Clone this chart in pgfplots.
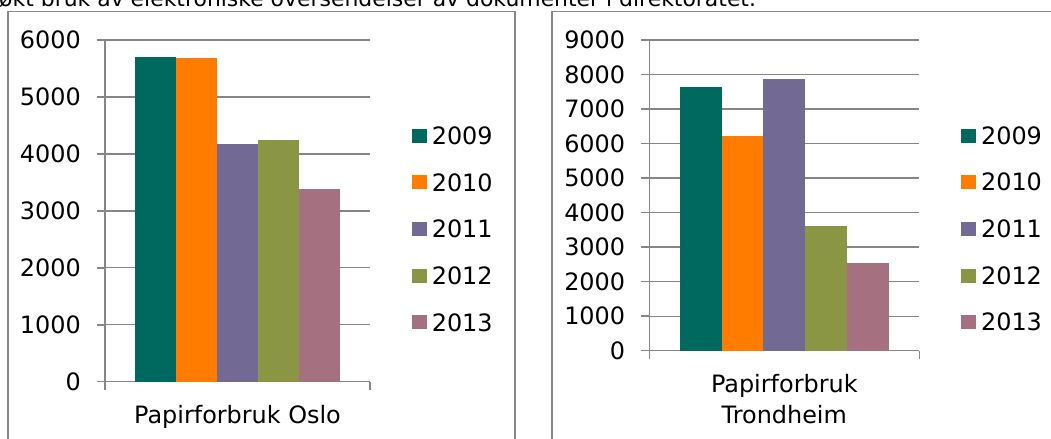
\documentclass[border=0pt]{standalone}
\usepackage{fontspec}
\setmainfont{DejaVu Sans}
\usepackage{pgfplots}
\pgfplotsset{compat=1.18}
\definecolor{c09}{RGB}{0,105,95}
\definecolor{c10}{RGB}{255,124,0}
\definecolor{c11}{RGB}{114,106,148}
\definecolor{c12}{RGB}{138,150,68}
\definecolor{c13}{RGB}{165,112,127}
\definecolor{gridgray}{RGB}{134,134,134}
\definecolor{framegray}{RGB}{136,136,136}
\newcommand{\chartfont}{\fontsize{24}{30.6}\selectfont}
\pgfplotsset{
  sq/.style={fill=#1, draw=none,
    legend image code/.code={\fill[##1] (0bp,-7bp) rectangle (15bp,7bp); \path (20bp,0bp);}},
  mystyle/.style={
    scale only axis,
    anchor=south west,
    ybar=0pt,
    xmin=-1, xmax=1,
    xtick={-1,1}, xticklabels={,},
    ymin=0,
    ytick distance=1000,
    axis x line*=bottom,
    axis y line*=left,
    axis line style={gridgray, line width=1.5bp, -},
    tick align=outside,
    major tick length=8bp,
    tick style={gridgray, line width=1.5bp},
    ymajorgrids,
    major grid style={gridgray, line width=1.3bp},
    /pgf/number format/assume math mode=true,
    /pgf/number format/1000 sep={},
    ticklabel style={font=\chartfont},
    yticklabel style={inner xsep=0pt, xshift=-16bp},
    label style={font=\chartfont},
    legend cell align=left,
    legend style={draw=none, fill=none, anchor=west, inner sep=0pt,
      row sep=29.17bp, column sep=0pt,
      nodes={inner sep=0pt, text height=17.5bp, text depth=0pt, font=\chartfont}},
  }
}
\begin{document}
\begin{tikzpicture}
\useasboundingbox (0,0) rectangle (1051bp,439bp);
\clip (0,0) rectangle (1051bp,439bp);
\node[anchor=base west, inner sep=0pt, font=\fontsize{22}{26}\selectfont] at (-1bp,432bp) {økt bruk av elektroniske oversendelser av dokumenter i direktoratet.};
\draw[framegray, line width=1.5bp] (8bp,-20bp) rectangle (515bp,427.5bp);
\draw[framegray, line width=1.5bp] (552bp,-20bp) rectangle (1075bp,427.5bp);

\begin{axis}[mystyle, at={(105bp,57.3bp)}, width=265bp, height=341.7bp,
  ymax=6000, bar width=40.8bp,
  xlabel={Papirforbruk Oslo},
  xlabel style={at={(axis description cs:0.5,0)}, anchor=base, yshift=-41.6bp},
  legend style={at={(1.157,0.447)}}]
\addplot[sq=c09] coordinates {(0,5700)};
\addplot[sq=c10] coordinates {(0,5680)};
\addplot[sq=c11] coordinates {(0,4175)};
\addplot[sq=c12] coordinates {(0,4245)};
\addplot[sq=c13] coordinates {(0,3385)};
\legend{2009,2010,2011,2012,2013}
\end{axis}

\begin{axis}[mystyle, at={(649.3bp,88.3bp)}, width=270bp, height=310.7bp,
  ymax=9000, bar width=41.7bp,
  xlabel={Papirforbruk\\Trondheim},
  xlabel style={at={(axis description cs:0.5,0)}, anchor=base, align=center, yshift=-72.6bp},
  legend style={at={(1.154,0.392)}}]
\addplot[sq=c09] coordinates {(0,7640)};
\addplot[sq=c10] coordinates {(0,6220)};
\addplot[sq=c11] coordinates {(0,7870)};
\addplot[sq=c12] coordinates {(0,3610)};
\addplot[sq=c13] coordinates {(0,2540)};
\legend{2009,2010,2011,2012,2013}
\end{axis}
\end{tikzpicture}
\end{document}
